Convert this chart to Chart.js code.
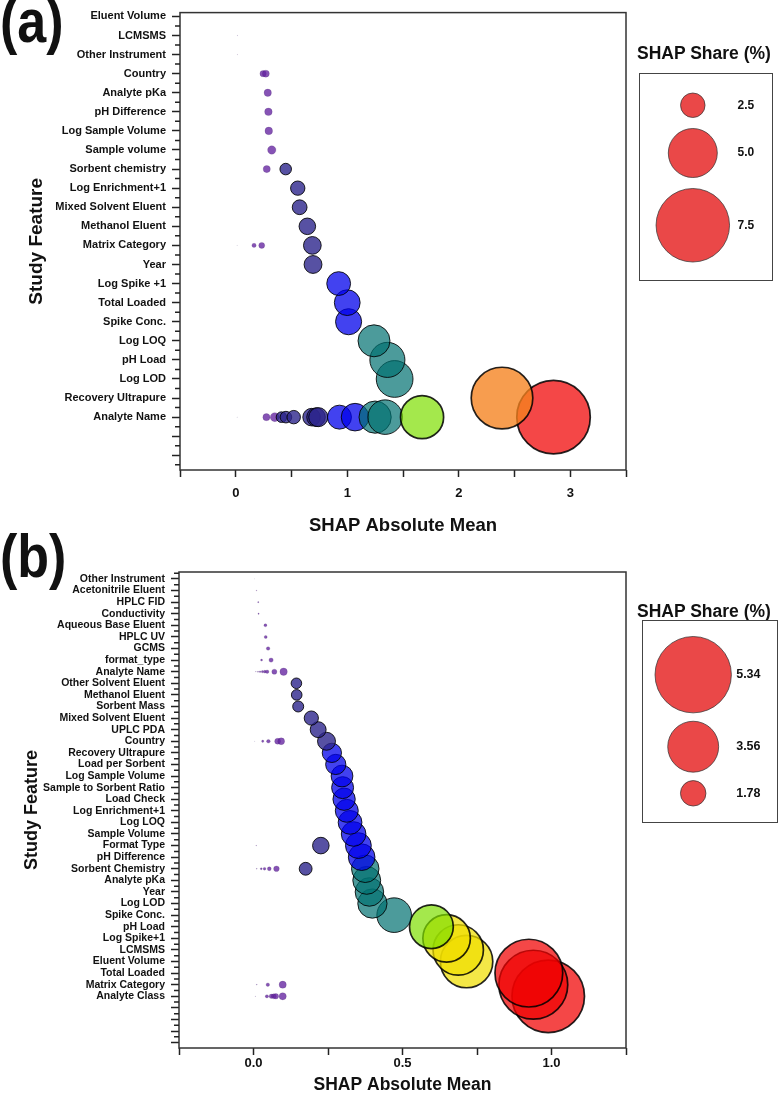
<!DOCTYPE html>
<html>
<head>
<meta charset="utf-8">
<title>SHAP bubble charts</title>
<script src="https://cdn.jsdelivr.net/npm/chart.js@4.4.1/dist/chart.umd.min.js"></script>
<style>
  html, body { margin: 0; padding: 0; background: #fff; }
  body { position: relative; width: 780px; height: 1102px; overflow: hidden;
         font-family: "Liberation Sans", Arial, sans-serif; color: #111; }
  .panel { position: absolute; left: 0; width: 780px; }
  .tag { position: absolute; left: 0; font-weight: bold; font-size: 52px; line-height: 1;
         transform: scaleY(1.16); transform-origin: 0 0; }
  .ltitle { position: absolute; font-weight: bold; font-size: 17.5px; line-height: 1; white-space: nowrap; }
  .lbox { position: absolute; border: 1.5px solid #444; box-sizing: border-box; }
  .lbox div { position: relative; width: 100%; height: 100%; }
</style>
</head>
<body>
<div class="panel" style="top:0;height:545px"><canvas id="chartA"></canvas></div>
<div class="panel" style="top:545px;height:557px"><canvas id="chartB"></canvas></div>
<div class="tag" style="top:-9px">(a)</div>
<div class="tag" style="top:526px">(b)</div>
<div class="ltitle" style="left:637px;top:45px">SHAP Share (%)</div>
<div class="lbox" style="left:639px;top:73px;width:134px;height:208px"><div><canvas id="legendA"></canvas></div></div>
<div class="ltitle" style="left:637px;top:603px">SHAP Share (%)</div>
<div class="lbox" style="left:642px;top:620px;width:136px;height:203px"><div><canvas id="legendB"></canvas></div></div>
<script>
// Panel (a): features top to bottom, SHAP absolute mean values per feature
const featuresA = ['Eluent Volume', 'LCMSMS', 'Other Instrument', 'Country', 'Analyte pKa', 'pH Difference',
  'Log Sample Volume', 'Sample volume', 'Sorbent chemistry', 'Log Enrichment+1', 'Mixed Solvent Eluent',
  'Methanol Eluent', 'Matrix Category', 'Year', 'Log Spike +1', 'Total Loaded', 'Spike Conc.', 'Log LOQ',
  'pH Load', 'Log LOD', 'Recovery Ultrapure', 'Analyte Name'];
const shapA = [
  [0.004], [0.015], [0.015], [0.245, 0.27], [0.287], [0.293], [0.296], [0.323], [0.278, 0.448],
  [0.556], [0.573], [0.642], [0.012, 0.164, 0.233, 0.687], [0.693], [0.923], [1.0], [1.012],
  [1.24], [1.36], [1.425], [2.388],
  [0.012, 0.275, 0.35, 0.41, 0.45, 0.52, 0.68, 0.72, 0.74, 0.93, 1.07, 1.25, 1.34, 1.671, 2.85]
];
const xLabelTicksA = [0, 1, 2, 3];
const legendSharesA = [2.5, 5.0, 7.5];
const shapTotalA = 38;

// Panel (b)
const featuresB = ['Other Instrument', 'Acetonitrile Eluent', 'HPLC FID', 'Conductivity', 'Aqueous Base Eluent',
  'HPLC UV', 'GCMS', 'format_type', 'Analyte Name', 'Other Solvent Eluent', 'Methanol Eluent', 'Sorbent Mass',
  'Mixed Solvent Eluent', 'UPLC PDA', 'Country', 'Recovery Ultrapure', 'Load per Sorbent', 'Log Sample Volume',
  'Sample to Sorbent Ratio', 'Load Check', 'Log Enrichment+1', 'Log LOQ', 'Sample Volume', 'Format Type',
  'pH Difference', 'Sorbent Chemistry', 'Analyte pKa', 'Year', 'Log LOD', 'Spike Conc.', 'pH Load',
  'Log Spike+1', 'LCMSMS', 'Eluent Volume', 'Total Loaded', 'Matrix Category', 'Analyte Class'];
const shapB = [
  [0.003], [0.01], [0.016], [0.017], [0.04], [0.041], [0.049], [0.027, 0.059],
  [0.002, 0.008, 0.015, 0.022, 0.03, 0.038, 0.046, 0.07, 0.101],
  [0.144], [0.145], [0.15], [0.194], [0.217],
  [0.004, 0.031, 0.05, 0.081, 0.093, 0.245],
  [0.263], [0.276], [0.297], [0.299], [0.304], [0.313], [0.324], [0.336],
  [0.009, 0.226, 0.352], [0.363],
  [0.011, 0.026, 0.037, 0.053, 0.077, 0.175, 0.375],
  [0.38], [0.389], [0.399], [0.472], [0.597], [0.648], [0.687], [0.715], [0.924],
  [0.011, 0.048, 0.098, 0.939],
  [0.006, 0.045, 0.06, 0.068, 0.075, 0.098, 0.989]
];
const xLabelTicksB = [0, 0.5, 1.0];
const legendSharesB = [5.34, 3.56, 1.78];
const shapTotalB = 19.5;

// colours
const PURPLE = 'rgba(100,35,160,0.78)';
const SLATE = 'rgba(45,38,140,0.8)';
const BLUE = 'rgba(0,0,235,0.74)';
const TEAL = 'rgba(0,112,112,0.7)';
const GREEN = 'rgba(125,222,0,0.7)';
const YELLOW = 'rgba(240,222,0,0.72)';
const ORANGE = 'rgba(245,130,30,0.78)';
const RED = 'rgba(240,0,0,0.72)';

function colourBy(cuts) {
  return function (v) {
    for (let i = 0; i < cuts.length; i++) {
      if (v < cuts[i][0]) return cuts[i][1];
    }
    return cuts[cuts.length - 1][1];
  };
}
const colourA = colourBy([[0.38, PURPLE], [0.8, SLATE], [1.15, BLUE], [1.55, TEAL], [2.0, GREEN], [2.6, ORANGE], [Infinity, RED]]);
const colourB = colourBy([[0.12, PURPLE], [0.255, SLATE], [0.37, BLUE], [0.55, TEAL], [0.62, GREEN], [0.85, YELLOW], [Infinity, RED]]);

Chart.defaults.font.family = '"Liberation Sans", Arial, sans-serif';
Chart.defaults.color = '#111';
Chart.defaults.animation = false;

// box round the plot + short minor ticks on the y axis
const framePlugin = {
  id: 'frame',
  afterDraw(chart) {
    const ctx = chart.ctx, a = chart.chartArea, ys = chart.scales.y;
    ctx.save();
    ctx.strokeStyle = '#333';
    ctx.lineWidth = 1.5;
    ctx.strokeRect(a.left, a.top, a.right - a.left, a.bottom - a.top);
    ctx.strokeStyle = '#222';
    ctx.beginPath();
    for (let v = Math.ceil(ys.min - 0.5) + 0.5; v < ys.max; v += 1) {
      const py = ys.getPixelForValue(v);
      ctx.moveTo(a.left - 5, py);
      ctx.lineTo(a.left, py);
    }
    ctx.stroke();
    ctx.restore();
  }
};

// bottom rows first, so upper rows are drawn on top
function buildPoints(features, shap, total, pxPerShare) {
  const n = features.length, pts = [];
  for (let i = n - 1; i >= 0; i--) {
    shap[i].slice().sort((p, q) => p - q).forEach(v => {
      pts.push({ x: v, y: n - 1 - i, r: v * 100 / total * pxPerShare });
    });
  }
  return pts;
}

function featureChart(id, c) {
  const n = c.features.length;
  return new Chart(document.getElementById(id), {
    type: 'bubble',
    data: {
      datasets: [{
        data: buildPoints(c.features, c.shap, c.total, c.pxPerShare),
        backgroundColor: ctx => ctx.raw ? c.colour(ctx.raw.x) : PURPLE,
        borderColor: ctx => (ctx.raw && ctx.raw.r < 5) ? 'rgba(60,30,90,0.35)' : 'rgba(0,0,0,0.85)',
        borderWidth: ctx => !ctx.raw ? 1 : (ctx.raw.r < 5 ? 0.5 : (ctx.raw.r < 20 ? 1 : 1.7))
      }]
    },
    options: {
      responsive: true,
      maintainAspectRatio: false,
      events: [],
      layout: { autoPadding: false, padding: { left: 0, top: c.top, right: 154, bottom: 0 } },
      plugins: { legend: { display: false }, tooltip: { enabled: false } },
      scales: {
        x: {
          type: 'linear', min: c.xMin, max: c.xMax,
          afterBuildTicks: s => {
            s.ticks = [];
            const steps = Math.round((c.xMax - c.xMin) / c.xStep);
            for (let k = 0; k <= steps; k++) s.ticks.push({ value: +(c.xMin + k * c.xStep).toFixed(4) });
          },
          afterFit: s => { s.height = c.xHeight; },
          ticks: {
            autoSkip: false, maxRotation: 0, padding: c.xTickPad, color: '#111',
            font: { size: 13, weight: 'bold' },
            callback: v => c.xLabels.some(t => Math.abs(t - v) < 1e-6) ? v.toFixed(c.xDec) : ''
          },
          grid: { drawOnChartArea: false, tickLength: 7, tickColor: '#222', tickWidth: 1.5 },
          border: { display: false },
          title: {
            display: true, text: 'SHAP Absolute Mean', color: '#111',
            font: { size: c.xTitleSize, weight: 'bold' }, padding: { top: 0, bottom: c.xTitlePad }
          }
        },
        y: {
          type: 'linear', min: c.yMin, max: c.yMax,
          afterBuildTicks: s => {
            s.ticks = [];
            for (let v = Math.ceil(c.yMin); v <= Math.floor(c.yMax); v++) s.ticks.push({ value: v });
          },
          afterFit: s => { s.width = c.yWidth; },
          ticks: {
            autoSkip: false, padding: 6, color: '#111',
            font: { size: c.yFont, weight: 'bold' },
            callback: v => v >= 0 ? c.features[n - 1 - v] : ''
          },
          grid: { drawOnChartArea: false, tickLength: 8, tickColor: '#222', tickWidth: 1.5 },
          border: { display: false },
          title: {
            display: true, text: 'Study Feature', color: '#111',
            font: { size: c.yTitleSize, weight: 'bold' }, padding: { top: c.yTitlePad, bottom: 0 }
          }
        }
      }
    },
    plugins: [framePlugin]
  });
}

// size key: stacked circles with their share printed to the right
function legendChart(id, c) {
  const canvas = document.getElementById(id);
  const box = canvas.parentNode;
  const w = box.clientWidth, h = box.clientHeight;
  const pts = [];
  let y = c.topGap;
  c.shares.forEach(s => {
    const r = s * c.pxPerShare;
    pts.push({ x: c.cx, y: y + r, r: r, label: s.toFixed(c.dec) });
    y += 2 * r + c.gap;
  });
  const labelPlugin = {
    id: 'shareLabels',
    afterDatasetsDraw(chart) {
      const ctx = chart.ctx;
      ctx.save();
      ctx.fillStyle = '#111';
      ctx.font = 'bold ' + c.fontSize + 'px "Liberation Sans", Arial, sans-serif';
      ctx.textBaseline = 'middle';
      chart.getDatasetMeta(0).data.forEach((el, i) => {
        ctx.fillText(pts[i].label, chart.scales.x.getPixelForValue(c.labelX), el.y);
      });
      ctx.restore();
    }
  };
  return new Chart(canvas, {
    type: 'bubble',
    data: {
      datasets: [{
        data: pts,
        clip: false,
        backgroundColor: 'rgba(230,40,40,0.85)',
        borderColor: 'rgba(50,50,50,0.9)',
        borderWidth: 0.8
      }]
    },
    options: {
      responsive: true, maintainAspectRatio: false, events: [],
      layout: { autoPadding: false, padding: 0 },
      plugins: { legend: { display: false }, tooltip: { enabled: false } },
      scales: {
        x: { display: false, min: 0, max: w },
        y: { display: false, min: 0, max: h, reverse: true }
      }
    },
    plugins: [labelPlugin]
  });
}

featureChart('chartA', {
  features: featuresA, shap: shapA, total: shapTotalA, pxPerShare: 4.9, colour: colourA,
  top: 9, xMin: -0.5, xMax: 3.5, xStep: 0.5, xLabels: xLabelTicksA, xDec: 0,
  xHeight: 75, xTickPad: 9, xTitleSize: 18.5, xTitlePad: 8,
  yMin: -2.77, yMax: 21.2, yWidth: 180, yFont: 11, yTitleSize: 19, yTitlePad: 25.6
});

featureChart('chartB', {
  features: featuresB, shap: shapB, total: shapTotalB, pxPerShare: 7.15, colour: colourB,
  top: 27, xMin: -0.25, xMax: 1.25, xStep: 0.25, xLabels: xLabelTicksB, xDec: 1,
  xHeight: 54, xTickPad: 1, xTitleSize: 17.5, xTitlePad: 6.5,
  yMin: -4.46, yMax: 36.6, yWidth: 179, yFont: 10.5, yTitleSize: 18, yTitlePad: 21.2
});

legendChart('legendA', { shares: legendSharesA, pxPerShare: 4.9, topGap: 19, gap: 11, cx: 52.8, labelX: 97.5, dec: 1, fontSize: 12 });
legendChart('legendB', { shares: legendSharesB, pxPerShare: 7.15, topGap: 15.5, gap: 8.4, cx: 50.2, labelX: 93.2, dec: 2, fontSize: 12.5 });
</script>
</body>
</html>
